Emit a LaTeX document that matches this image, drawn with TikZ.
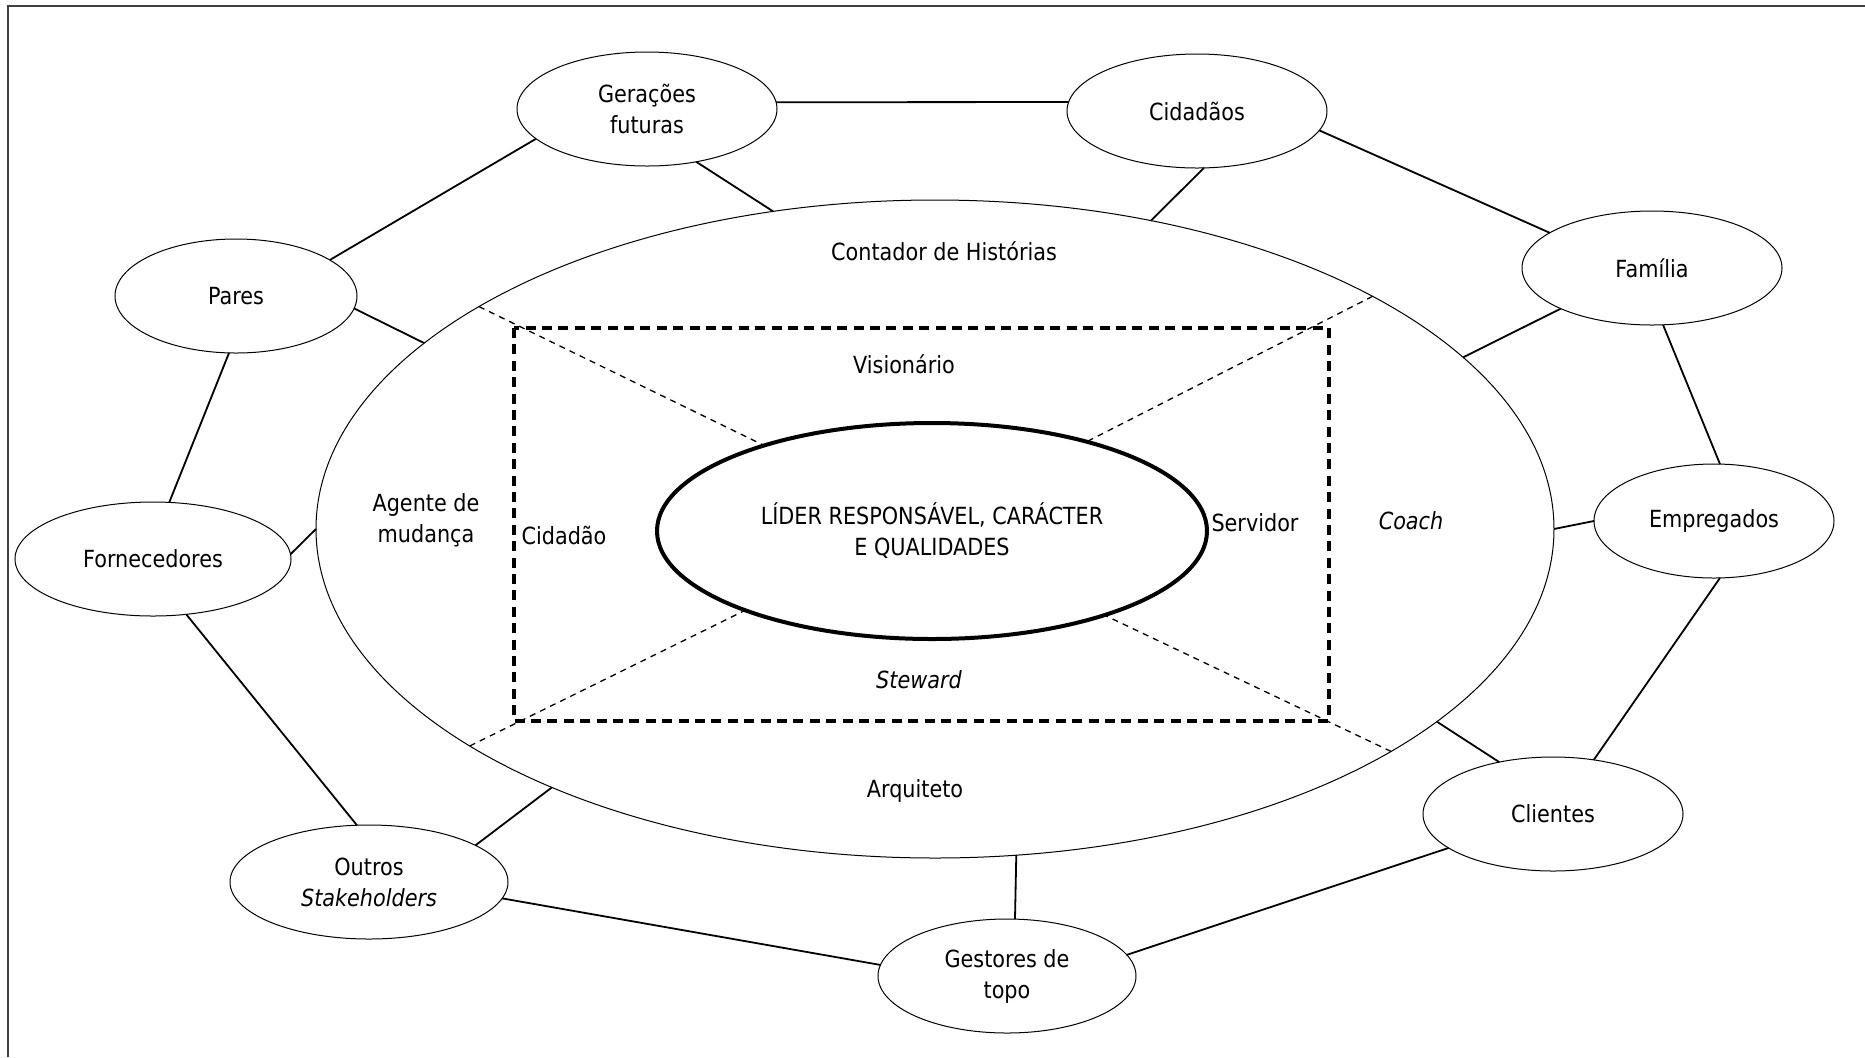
\documentclass[tikz,border=0pt]{standalone}
\usepackage{fontspec}
\setmainfont{DejaVu Sans}[FakeStretch=0.88]
\usetikzlibrary{shapes.geometric}

\tikzset{
  lbl/.style={font=\fontsize{11.8}{15.5}\selectfont, align=center, inner sep=0pt},
  oval/.style 2 args={ellipse, draw, line width=0.5pt, inner sep=0pt, outer sep=0pt,
    minimum width=#1pt, minimum height=#2pt, font=\fontsize{11.8}{15.5}\selectfont, align=center},
  link/.style={line width=0.9pt},
  diag/.style={line width=0.65pt, dash pattern=on 3pt off 2.6pt},
  boxdash/.style={line width=1.7pt, dash pattern=on 5pt off 3.2pt},
}

\begin{document}
\begin{tikzpicture}[x=0.5pt, y=-0.5pt]
  \useasboundingbox (0,0) rectangle (1865,1057);
  % frame edges
  \draw[black!75, line width=0.9pt] (8,1057) -- (8,6) -- (1865,6);

  % central ring
  \node[oval={619}{329}] (big) at (935,529) {};
  \node[oval={275}{108}, line width=2pt] (lead) at (932,531)
    {LÍDER RESPONSÁVEL, CARÁCTER\\E QUALIDADES};

  % dashed inner frame and its diagonals
  \draw[boxdash] (514,328) rectangle (1329,721);
  \draw[diag] (big.154) -- (lead.153);
  \draw[diag] (big.28) -- (lead.30);
  \draw[diag] (big.205) -- (lead.203);
  \draw[diag] (big.334) -- (lead.334.5);

  % roles
  \node[lbl] (contador) at (944,251) {Contador de Histórias};
  \node[lbl] (vision) at (904,364) {Visionário};
  \node[lbl] (agente) at (426,520) {Agente de\\mudança};
  \node[lbl] (cidadao) at (564,535) {Cidadão};
  \node[lbl] (servidor) at (1255,523) {Servidor};
  \node[lbl] (coach) at (1411,521) {\itshape Coach};
  \node[lbl] (steward) at (919,680) {\itshape Steward};
  \node[lbl] (arquiteto) at (915,791) {Arquiteto};

  % stakeholders
  \node[oval={130}{57}] (ger) at (647,109) {Gerações\\futuras};
  \node[oval={130}{57}] (cid) at (1197,111) {Cidadãos};
  \node[oval={130}{57}] (fam) at (1652,268) {Família};
  \node[oval={120}{57}] (emp) at (1714,521) {Empregados};
  \node[oval={130}{57}] (cli) at (1553,814) {Clientes};
  \node[oval={129}{57}] (ges) at (1007,976) {Gestores de\\topo};
  \node[oval={139}{57}] (out) at (369,882) {Outros\\\textit{Stakeholders}};
  \node[oval={138}{57}] (forn) at (153,559) {Fornecedores};
  \node[oval={121}{57}] (par) at (236,296) {Pares};

  % links
  \draw[link] (ger.3) -- (cid.176);
  \draw[link] (ger.195) -- (par.21);
  \draw[link] (ger.313) -- (big.117.5);
  \draw[link] (cid.277) -- (big.55);
  \draw[link] (cid.351) -- (fam.161);
  \draw[link] (fam.204) -- (big.18.7);
  \draw[link] (fam.281) -- (emp.84);
  \draw[link] (big.-0.5) -- (emp.180);
  \draw[link] (emp.276) -- (cli.53);
  \draw[link] (big.339) -- (cli.136);
  \draw[link] (cli.198.6) -- (ges.10.7);
  \draw[link] (big.284.5) -- (ges.82);
  \draw[link] (out.353.6) -- (ges.175.6);
  \draw[link] (out.19.5) -- (big.214.7);
  \draw[link] (out.102) -- (forn.301);
  \draw[link] (forn.2) -- (big.180.5);
  \draw[link] (forn.74) -- (par.263);
  \draw[link] (par.354) -- (big.160.5);
\end{tikzpicture}
\end{document}
